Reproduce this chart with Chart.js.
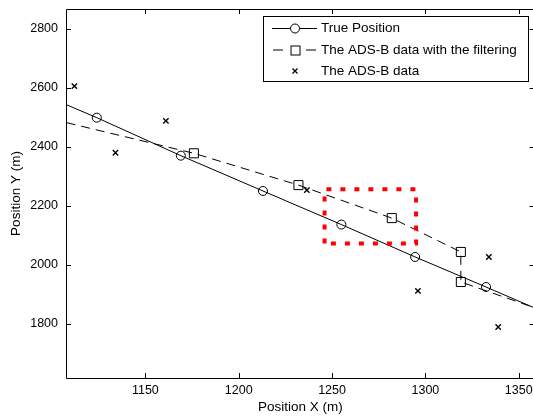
<!DOCTYPE html>
<html><head><meta charset="utf-8">
<script src="https://cdn.jsdelivr.net/npm/chart.js@4.4.0/dist/chart.umd.min.js"></script>
<style>html,body{margin:0;padding:0;background:#fff;overflow:hidden;width:533px;height:419px}canvas{display:block}</style>
</head><body><canvas id="c" width="540" height="419"></canvas>
<script>
const xTicks = [1150, 1200, 1250, 1300, 1350];
const yTicks = [1800, 2000, 2200, 2400, 2600, 2800];
const trueX = [1100, 1124, 1169, 1213, 1255, 1294.5, 1332.5, 1365];
const trueY = [2564, 2499, 2370, 2250, 2136, 2026, 1924, 1835];
const trueMarker = [false, true, true, true, true, true, true, false];
const filtX = [1100, 1176, 1232, 1282, 1319, 1319, 1361];
const filtY = [2494, 2378, 2270, 2158, 2043, 1941, 1848];
const filtMarker = [false, true, true, true, true, true, false];
const adsX = [1112, 1134, 1161, 1236.5, 1296, 1334, 1339];
const adsY = [2606, 2380, 2488, 2253, 1911, 2026, 1788];
const boxX = [1246, 1246, 1295, 1295, 1246];
const boxY = [2072, 2256, 2256, 2072, 2072];
const legendLabels = ['True Position', 'The ADS-B data with the filtering', 'The ADS-B data'];

const FONT = '"Liberation Sans", Arial, Helvetica, sans-serif';
const pts = (xs, ys) => xs.map((x, i) => ({x, y: ys[i]}));

const framePlugin = {
  id: 'frame',
  afterDraw(chart) {
    const ctx = chart.ctx;
    const a = chart.chartArea;
    const xs = chart.scales.x, ys = chart.scales.y;
    ctx.save();
    ctx.strokeStyle = '#000';
    ctx.lineWidth = 1;
    ctx.beginPath();
    ctx.rect(a.left + 0.5, a.top + 0.5, a.right - a.left, a.bottom - a.top);
    ctx.stroke();
    const tl = 5;
    ctx.beginPath();
    xTicks.forEach(v => {
      const p = Math.round(xs.getPixelForValue(v)) + 0.5;
      ctx.moveTo(p, a.bottom); ctx.lineTo(p, a.bottom - tl);
      ctx.moveTo(p, a.top); ctx.lineTo(p, a.top + tl);
    });
    yTicks.forEach(v => {
      const p = Math.round(ys.getPixelForValue(v)) + 0.5;
      ctx.moveTo(a.left, p); ctx.lineTo(a.left + tl, p);
      ctx.moveTo(a.right, p); ctx.lineTo(a.right - tl, p);
    });
    ctx.stroke();

    // legend
    const L = 263.5, T = 16.5, R = 528.5, B = 81.5;
    ctx.fillStyle = '#fff';
    ctx.fillRect(L, T, R - L, B - T);
    ctx.strokeRect(L, T, R - L, B - T);
    const rows = [28.5, 50, 71];
    const sx0 = 272, sx1 = 317, mx = 295;
    ctx.lineWidth = 1;
    ctx.beginPath(); ctx.moveTo(sx0, rows[0]); ctx.lineTo(sx1, rows[0]); ctx.stroke();
    ctx.beginPath(); ctx.arc(mx, rows[0], 4.5, 0, Math.PI * 2); ctx.fillStyle = '#fff'; ctx.fill(); ctx.stroke();
    ctx.beginPath(); ctx.moveTo(sx0 + 1, rows[1]); ctx.lineTo(sx0 + 11, rows[1]);
    ctx.moveTo(sx1 - 11, rows[1]); ctx.lineTo(sx1 - 1, rows[1]); ctx.stroke();
    ctx.strokeRect(mx - 4.5 + 0.5, rows[1] - 4.5 + 0.5, 9, 9);
    ctx.beginPath();
    ctx.lineWidth = 1.3;
    ctx.moveTo(mx - 2.5, rows[2] - 2.5); ctx.lineTo(mx + 2.5, rows[2] + 2.5);
    ctx.moveTo(mx + 2.5, rows[2] - 2.5); ctx.lineTo(mx - 2.5, rows[2] + 2.5);
    ctx.stroke();
    ctx.fillStyle = '#000';
    ctx.font = '13.5px ' + FONT;
    ctx.textBaseline = 'middle';
    ctx.textAlign = 'left';
    legendLabels.forEach((t, i) => ctx.fillText(t, 321, rows[i]));
    ctx.restore();
  }
};

new Chart(document.getElementById('c'), {
  type: 'scatter',
  data: {
    datasets: [
      {
        label: 'box', data: pts(boxX, boxY), showLine: true,
        borderColor: '#ff0000', borderWidth: 4, borderDash: [5, 9], borderCapStyle: 'butt',
        pointRadius: 0, fill: false
      },
      {
        label: legendLabels[0], data: pts(trueX, trueY), showLine: true,
        borderColor: '#000', borderWidth: 1,
        pointStyle: 'circle', pointRadius: trueMarker.map(m => m ? 4.5 : 0),
        pointBorderColor: '#000', pointBackgroundColor: 'rgba(0,0,0,0)', pointBorderWidth: 1
      },
      {
        label: legendLabels[1], data: pts(filtX, filtY), showLine: true,
        borderColor: '#000', borderWidth: 1, borderDash: [9, 6],
        pointStyle: 'rect', pointRadius: filtMarker.map(m => m ? 6.4 : 0),
        pointBorderColor: '#000', pointBackgroundColor: 'rgba(0,0,0,0)', pointBorderWidth: 1
      },
      {
        label: legendLabels[2], data: pts(adsX, adsY), showLine: false,
        pointStyle: 'crossRot', pointRadius: 3.8,
        pointBorderColor: '#000', pointBorderWidth: 1.4
      }
    ]
  },
  options: {
    responsive: false, animation: false, devicePixelRatio: 1,
    layout: {padding: {top: 9, right: 5, left: 0, bottom: 0}},
    plugins: {legend: {display: false}, tooltip: {enabled: false}},
    elements: {line: {tension: 0}},
    scales: {
      x: {
        type: 'linear', min: 1107.5, max: 1358.5,
        afterBuildTicks: s => { s.ticks = xTicks.map(v => ({value: v})); },
        afterFit: s => { s.height = 41; s.paddingLeft = 0; s.paddingRight = 0; },
        grid: {display: false, drawTicks: false}, border: {display: false},
        ticks: {color: '#000', font: {family: FONT, size: 12.5}, padding: 5, maxRotation: 0, callback: v => String(v)},
        title: {display: true, text: 'Position X (m)', color: '#000', font: {family: FONT, size: 13.5}, padding: {top: 0, bottom: 4}}
      },
      y: {
        type: 'linear', min: 1615, max: 2868,
        afterBuildTicks: s => { s.ticks = yTicks.map(v => ({value: v})); },
        afterFit: s => { s.width = 66; s.paddingTop = 0; s.paddingBottom = 0; },
        grid: {display: false, drawTicks: false}, border: {display: false},
        ticks: {color: '#000', font: {family: FONT, size: 12.5}, padding: 8, callback: v => String(v)},
        title: {display: true, text: 'Position Y (m)', color: '#000', font: {family: FONT, size: 13.5}, padding: {top: 8, bottom: 0}}
      }
    }
  },
  plugins: [framePlugin]
});
</script></body></html>
